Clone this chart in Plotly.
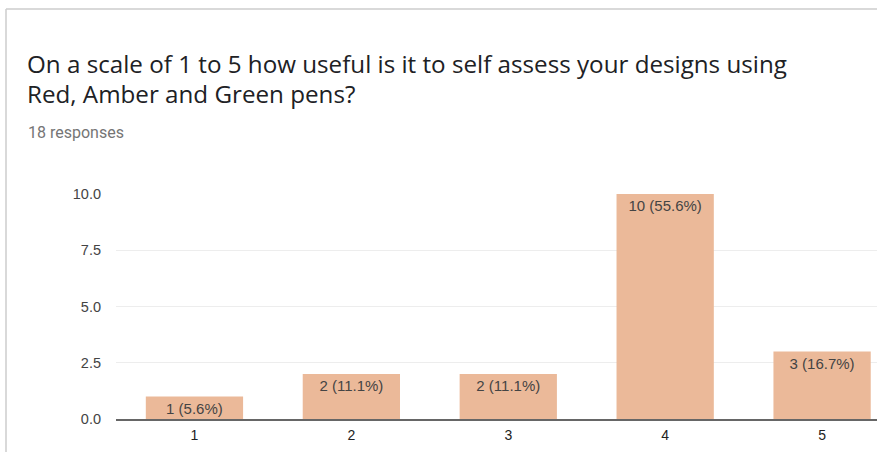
import plotly.graph_objects as go

# survey answers on the 1-5 scale
ratings = ["1", "2", "3", "4", "5"]
counts = [1, 2, 2, 10, 3]
percents = [5.6, 11.1, 11.1, 55.6, 16.7]

title_lines = [
    "On a scale of 1 to 5 how useful is it to self assess your designs using",
    "Red, Amber and Green pens?",
]
subtitle = "18 responses"

W, H = 877, 452
L, R, T, B = 116, 0, 194, 33
pw, ph = W - L - R, H - T - B


def px_x(x):
    return (x - L) / pw


def px_y(y):
    return (H - B - y) / ph


labels = [f"{c} ({p}%)" for c, p in zip(counts, percents)]

fig = go.Figure(go.Bar(
    x=ratings,
    y=counts,
    text=labels,
    textposition="inside",
    insidetextanchor="end",
    constraintext="none",
    textfont=dict(family="Liberation Sans, Arial", size=15, color="#444444"),
    marker=dict(color="#EBB999", line=dict(width=0)),
    cliponaxis=False,
))

annotations = [
    dict(text=title_lines[0], x=px_x(25), y=px_y(63)),
    dict(text=title_lines[1], x=px_x(25), y=px_y(93)),
]
for a in annotations:
    a.update(xref="paper", yref="paper", xanchor="left", yanchor="middle",
             showarrow=False, font=dict(family="Open Sans", size=24.2, color="#202124"))
annotations.append(dict(text=subtitle, x=px_x(26), y=px_y(132), xref="paper", yref="paper",
                        xanchor="left", yanchor="middle", showarrow=False,
                        font=dict(family="Roboto", size=16, color="#757575")))

fig.update_layout(
    width=W, height=H,
    margin=dict(l=L, r=R, t=T, b=B),
    paper_bgcolor="white", plot_bgcolor="white",
    bargap=0.38,
    showlegend=False,
    annotations=annotations,
    shapes=[
        dict(type="line", xref="paper", yref="paper", x0=px_x(6), x1=px_x(6), y0=px_y(9), y1=px_y(460),
             line=dict(color="#cccccc", width=1.5)),
        dict(type="line", xref="paper", yref="paper", x0=px_x(6), x1=px_x(900), y0=px_y(9), y1=px_y(9),
             line=dict(color="#cccccc", width=1.5)),
    ],
)
fig.update_xaxes(
    range=[-0.5, 4.35], showgrid=False, ticks="",
    showline=True, linecolor="#666666", linewidth=2,
    tickfont=dict(family="Liberation Sans, Arial", size=14, color="#222222"),
    ticklabelstandoff=2,
)
fig.update_yaxes(
    range=[0, 10], tickvals=[0, 2.5, 5, 7.5, 10], tickformat=".1f",
    showgrid=True, gridcolor="#ededed", gridwidth=1, zeroline=False,
    tickfont=dict(family="Liberation Sans, Arial", size=14.5, color="#444444"),
    ticklabelstandoff=14,
)

fig.write_html("out.html", config={"displayModeBar": False},
               post_script="document.body.style.margin='0';document.body.style.overflow='hidden';")
